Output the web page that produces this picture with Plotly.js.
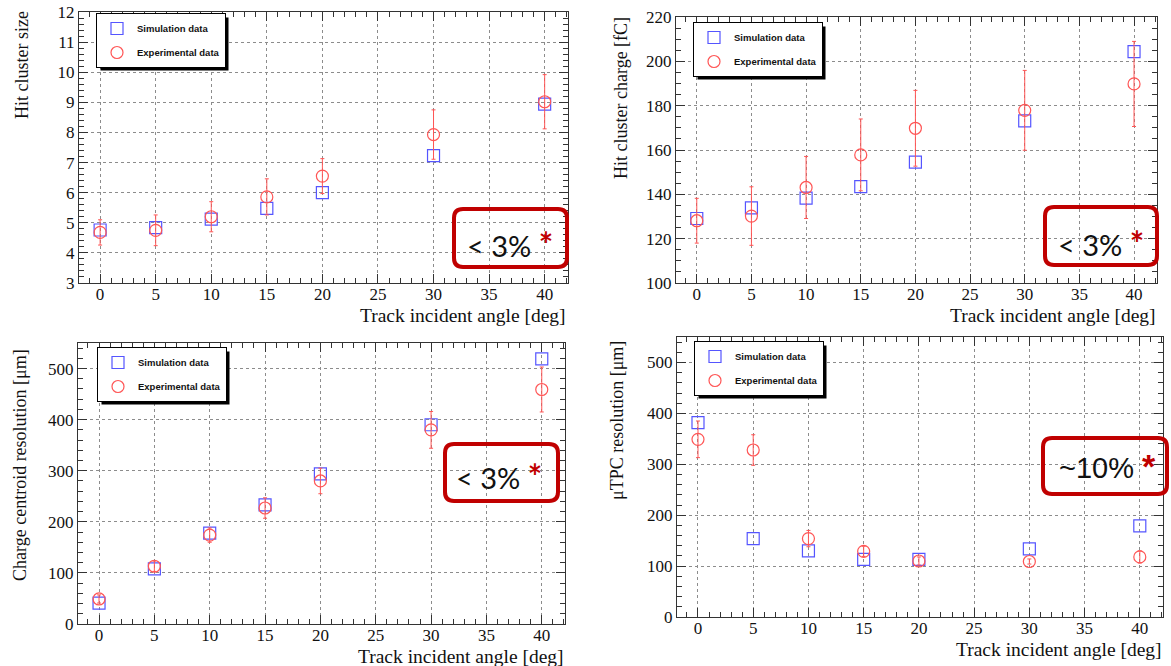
<!DOCTYPE html>
<html>
<head>
<meta charset="utf-8">
<script src="https://cdn.plot.ly/plotly-3.0.1.min.js"></script>
<style>
html,body{margin:0;padding:0;background:#fff;}
#plot{width:1171px;height:666px;}
</style>
</head>
<body>
<div id="plot"></div>
<script>
// ---------------- data ----------------
const angles = [0, 5, 10, 15, 20, 30, 40];
const seriesNames = ['Simulation data', 'Experimental data'];

const sizeSim = [4.76, 4.84, 5.12, 5.48, 6.00, 7.23, 8.94];
const sizeExp = [4.68, 4.75, 5.20, 5.86, 6.55, 7.93, 9.02];
const sizeExpErr = [0.42, 0.51, 0.50, 0.60, 0.58, 0.82, 0.90];

const chargeSim = [129.1, 133.9, 138.3, 143.5, 154.5, 173.1, 204.4];
const chargeExp = [128.1, 130.2, 143.1, 157.8, 169.8, 177.9, 189.8];
const chargeExpErr = [10.1, 13.2, 14.0, 16.2, 17.1, 18.0, 19.2];

const centroidSim = [41, 108, 178, 233, 294, 390, 519];
const centroidExp = [49, 113, 174, 227, 280, 380, 459];
const centroidExpErr = [8, 10, 14, 20, 25, 36, 44];

const utpcSim = [382, 154, 130, 113, 113, 134, 179];
const utpcExp = [349, 328, 154, 129, 110, 109, 118];
const utpcExpErr = [36, 30, 16, 10, 8, 5, 12];

const yTitles = ['Hit cluster size', 'Hit cluster charge [fC]', 'Charge centroid resolution [μm]', 'μTPC resolution [μm]'];
const xTitle = 'Track incident angle [deg]';
const boxTexts = ['&lt; 3%', '&lt; 3%', '&lt; 3%', '~10%'];

// ---------------- layout helpers ----------------
const W = 1171, H = 666;
const px = x => x / W;
const py = y => 1 - y / H;

const panels = [
  {sim: sizeSim, exp: sizeExp, err: sizeExpErr, yr: [3, 12], dt: 1, mdt: 0.2,
   box: [79, 12, 568, 283], leg: [96, 13], yt: [22, 65], xt: [567, 315],
   rb: [452, 207, 569, 269], rt: [510, 243], rfont: 'Lato'},
  {sim: chargeSim, exp: chargeExp, err: chargeExpErr, yr: [100, 220], dt: 20, mdt: 5,
   box: [676, 17, 1157, 283], leg: [693, 22], yt: [621, 98], xt: [1157, 315],
   rb: [1043, 205, 1159, 267], rt: [1101, 242], rfont: 'Lato'},
  {sim: centroidSim, exp: centroidExp, err: centroidExpErr, yr: [0, 550], dt: 100, mdt: 20,
   box: [78, 343, 565, 624], leg: [97, 347], yt: [20, 465], xt: [565, 656],
   rb: [443, 442, 560, 503], rt: [499, 475], rfont: 'Lato'},
  {sim: utpcSim, exp: utpcExp, err: utpcExpErr, yr: [0, 550], dt: 100, mdt: 20,
   box: [677, 337, 1163, 617], leg: [694, 341], yt: [617, 421], xt: [1163, 649],
   rb: [1041, 436, 1169, 496], rt: [1107, 466], rfont: 'Liberation Sans'}
];

const serif = 'Liberation Serif, Times New Roman, serif';
const axisCol = '#333';
const data = [];
const layout = {
  width: W, height: H,
  margin: {l: 0, r: 0, t: 0, b: 0},
  paper_bgcolor: '#fff', plot_bgcolor: '#fff',
  showlegend: true,
  annotations: [], shapes: []
};

function roundRectPath(x0, y0, x1, y1, r) {
  const f = (x, y) => px(x).toFixed(5) + ',' + py(y).toFixed(5);
  return 'M' + f(x0 + r, y0) + ' L' + f(x1 - r, y0) + ' Q' + f(x1, y0) + ' ' + f(x1, y0 + r) +
    ' L' + f(x1, y1 - r) + ' Q' + f(x1, y1) + ' ' + f(x1 - r, y1) +
    ' L' + f(x0 + r, y1) + ' Q' + f(x0, y1) + ' ' + f(x0, y1 - r) +
    ' L' + f(x0, y0 + r) + ' Q' + f(x0, y0) + ' ' + f(x0 + r, y0) + ' Z';
}

panels.forEach((p, i) => {
  const n = i === 0 ? '' : String(i + 1);
  const xa = 'x' + n, ya = 'y' + n;
  const legId = 'legend' + n;
  data.push({
    x: angles, y: p.sim, xaxis: xa, yaxis: ya, type: 'scatter', mode: 'markers',
    name: seriesNames[0], legend: legId, legendgroup: 'sim' + i,
    marker: {symbol: 'square-open', size: 12, color: 'rgb(85,85,255)', line: {width: 1.2}}
  });
  data.push({
    x: angles, y: p.exp, xaxis: xa, yaxis: ya, type: 'scatter', mode: 'markers',
    name: seriesNames[1], legend: legId, legendgroup: 'exp' + i,
    marker: {symbol: 'circle-open', size: 12, color: 'rgb(255,85,85)', line: {width: 1.2}},
    error_y: {type: 'data', array: p.err, visible: true, color: 'rgb(255,85,85)', thickness: 1, width: 2}
  });
  const common = {
    showline: true, linecolor: axisCol, linewidth: 1, mirror: 'allticks',
    ticks: 'inside', ticklen: 9, tickcolor: axisCol, tickwidth: 1,
    showgrid: true, gridcolor: 'rgb(140,140,140)', gridwidth: 1, griddash: 'dot',
    zeroline: false, fixedrange: true,
    tickfont: {family: serif, size: 17, color: '#111'}
  };
  layout['xaxis' + n] = Object.assign({}, common, {
    domain: [px(p.box[0]), px(p.box[2])], anchor: ya,
    range: [-1.9, 42.1], tick0: 0, dtick: 5, ticklabelstandoff: -4,
    minor: {dtick: 1, tick0: 0, ticklen: 5, ticks: 'inside', tickcolor: axisCol, showgrid: false}
  });
  layout['yaxis' + n] = Object.assign({}, common, {
    domain: [py(p.box[3]), py(p.box[1])], anchor: xa,
    range: p.yr, tick0: p.yr[0], dtick: p.dt,
    minor: {dtick: p.mdt, tick0: p.yr[0], ticklen: 5, ticks: 'inside', tickcolor: axisCol, showgrid: false}
  });
  layout[legId] = {
    x: px(p.leg[0]), y: py(p.leg[1]), xanchor: 'left', yanchor: 'top',
    xref: 'paper', yref: 'paper',
    bgcolor: '#fff', bordercolor: '#000', borderwidth: 1,
    font: {family: 'Liberation Sans, Arial, sans-serif', size: 9.5, color: '#111', weight: 'bold'},
    tracegroupgap: 5, itemwidth: 30
  };
  // axis titles (ROOT style: y title at top end, x title at right end)
  layout.annotations.push({
    xref: 'paper', yref: 'paper', x: px(p.yt[0]), y: py(p.yt[1]),
    xanchor: 'center', yanchor: 'middle', textangle: -90, showarrow: false,
    text: yTitles[i], font: {family: serif, size: 18, color: '#111'}
  });
  layout.annotations.push({
    xref: 'paper', yref: 'paper', x: px(p.xt[0]), y: py(p.xt[1]),
    xanchor: 'right', yanchor: 'middle', showarrow: false, borderpad: 0,
    text: xTitle, font: {family: serif, size: 19.5, color: '#111'}
  });
  // red highlight box
  layout.shapes.push({
    type: 'path', xref: 'paper', yref: 'paper', layer: 'above',
    path: roundRectPath(p.rb[0] + 2, p.rb[1] + 2, p.rb[2] - 2, p.rb[3] - 2, 9),
    line: {color: '#c00000', width: 4}, fillcolor: 'rgba(0,0,0,0)'
  });
  layout.annotations.push({
    xref: 'paper', yref: 'paper', x: px(p.rt[0]), y: py(p.rt[1]),
    xanchor: 'center', yanchor: 'middle', showarrow: false,
    text: boxTexts[i] + " <b><span style='color:#c00000;font-size:34px'>*</span></b>",
    font: {family: p.rfont, size: 29, color: '#111'}
  });
});

Plotly.newPlot('plot', data, layout, {staticPlot: true, displayModeBar: false}).then(gd => {
  // drop shadows behind the legends, ROOT style
  const base = gd.getBoundingClientRect();
  const shapes = layout.shapes.slice();
  gd.querySelectorAll('.infolayer rect.bg').forEach(r => {
    if (r.closest('.annotation')) return;
    if (!r.closest('[class^="legend"]')) return;
    const b = r.getBoundingClientRect();
    if (b.width < 20) return;
    const x0 = b.left - base.left + 4, x1 = b.right - base.left + 3;
    const y0 = b.top - base.top + 4, y1 = b.bottom - base.top + 3;
    shapes.unshift({
      type: 'rect', xref: 'paper', yref: 'paper', layer: 'above',
      x0: px(x0), x1: px(x1), y0: py(y1), y1: py(y0),
      fillcolor: '#000', line: {width: 0}
    });
  });
  return Plotly.relayout(gd, {shapes: shapes});
});
</script>
</body>
</html>
